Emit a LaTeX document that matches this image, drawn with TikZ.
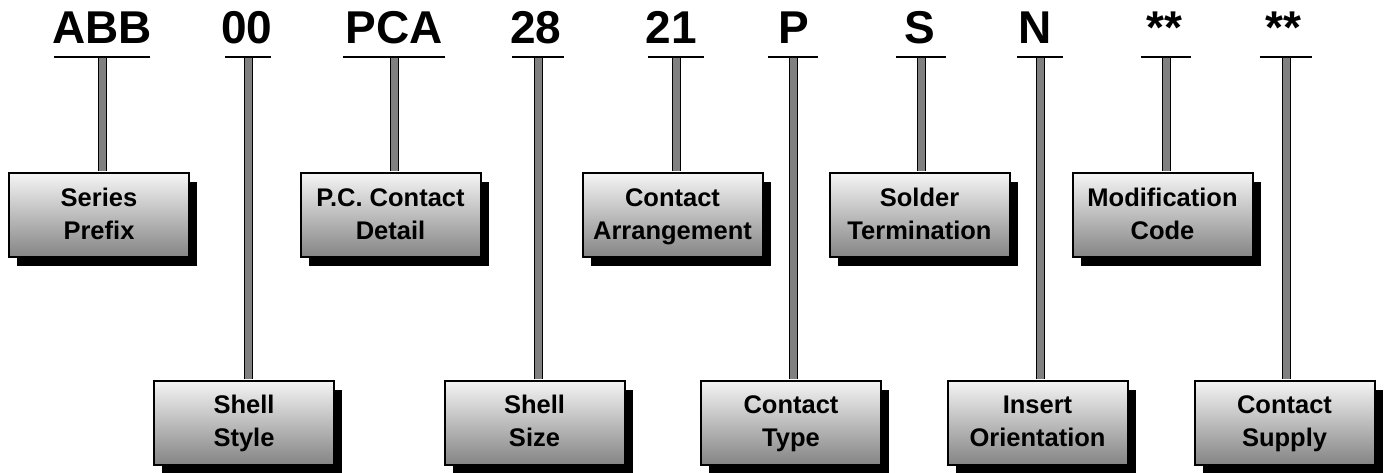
\documentclass[tikz,border=0pt]{standalone}
\usepackage{fontspec}
\setmainfont{Liberation Sans}
\usetikzlibrary{shadows}

\tikzset{
	code/.style={anchor=base, inner sep=0pt, font=\fontsize{46}{46}\selectfont\bfseries},
	uline/.style={inner sep=0pt, minimum height=0pt},
	stem/.style={double=gray, double distance=7pt, line width=1pt, shorten >=1pt, shorten <=0.75pt},
	field/.style={draw, line width=2pt, top color=white!96!black, bottom color=black!48,
		minimum width=180pt, minimum height=84pt, inner sep=0pt, align=center,
		font=\fontsize{25.5}{33}\selectfont\bfseries,
		text height=60pt, text depth=12pt,
		drop shadow={shadow xshift=8pt, shadow yshift=-9pt, fill=black, opacity=1}},
}

\begin{document}
\begin{tikzpicture}[x=1pt, y=-1pt]
	\useasboundingbox (0,0) rectangle (1384,472);
	\clip (0,0) rectangle (1384,472);
	
	% part number
	\node[code] (series code) at (102,43) {ABB};
	\node[code] (shell code) at (247,43) {00};
	\node[code] (pcdet code) at (394,43) {PCA};
	\node[code] (size code) at (536,43) {28};
	\node[code] (arr code) at (671,43) {21};
	\node[code] (type code) at (794,43) {P};
	\node[code] (term code) at (920,43) {S};
	\node[code] (orient code) at (1035,43) {N};
	\node[code] (mod code) at (1164,43) {**};
	\node[code] (supply code) at (1283,43) {**};
	
	\node[uline, minimum width=96pt] (series line) at (102,57) {};
	\node[uline, minimum width=46pt] (shell line) at (248,57) {};
	\node[uline, minimum width=102pt] (pcdet line) at (394,57) {};
	\node[uline, minimum width=52pt] (size line) at (538,57) {};
	\node[uline, minimum width=56pt] (arr line) at (676,57) {};
	\node[uline, minimum width=50pt] (type line) at (793,57) {};
	\node[uline, minimum width=49pt] (term line) at (921,57) {};
	\node[uline, minimum width=45pt] (orient line) at (1040,57) {};
	\node[uline, minimum width=50pt] (mod line) at (1166,57) {};
	\node[uline, minimum width=52pt] (supply line) at (1286,57) {};
	
	% upper row
	\node[field] (series) at (99,215) {Series\\Prefix};
	\node[field] (pcdet) at (390.5,215) {P.C. Contact\\Detail};
	\node[field] (arr) at (672.5,215) {Contact\\Arrangement};
	\node[field] (term) at (919.5,215) {Solder\\Termination};
	\node[field] (mod) at (1162.5,215) {Modification\\Code};
	
	% lower row
	\node[field] (shell) at (244,422.5) {Shell\\Style};
	\node[field] (size) at (534.5,422.5) {Shell\\Size};
	\node[field] (type) at (791,422.5) {Contact\\Type};
	\node[field] (orient) at (1037.5,422.5) {Insert\\Orientation};
	\node[field] (supply) at (1284.5,422.5) {Contact\\Supply};
	
	\draw[stem] (series line) -- (series line |- series.north);
	\draw[stem] (shell line) -- (shell line |- shell.north);
	\draw[stem] (pcdet line) -- (pcdet line |- pcdet.north);
	\draw[stem] (size line) -- (size line |- size.north);
	\draw[stem] (arr line) -- (arr line |- arr.north);
	\draw[stem] (type line) -- (type line |- type.north);
	\draw[stem] (term line) -- (term line |- term.north);
	\draw[stem] (orient line) -- (orient line |- orient.north);
	\draw[stem] (mod line) -- (mod line |- mod.north);
	\draw[stem] (supply line) -- (supply line |- supply.north);
	
	\draw[line width=1.5pt] (series line.west) -- (series line.east);
	\draw[line width=1.5pt] (shell line.west) -- (shell line.east);
	\draw[line width=1.5pt] (pcdet line.west) -- (pcdet line.east);
	\draw[line width=1.5pt] (size line.west) -- (size line.east);
	\draw[line width=1.5pt] (arr line.west) -- (arr line.east);
	\draw[line width=1.5pt] (type line.west) -- (type line.east);
	\draw[line width=1.5pt] (term line.west) -- (term line.east);
	\draw[line width=1.5pt] (orient line.west) -- (orient line.east);
	\draw[line width=1.5pt] (mod line.west) -- (mod line.east);
	\draw[line width=1.5pt] (supply line.west) -- (supply line.east);
\end{tikzpicture}
\end{document}
